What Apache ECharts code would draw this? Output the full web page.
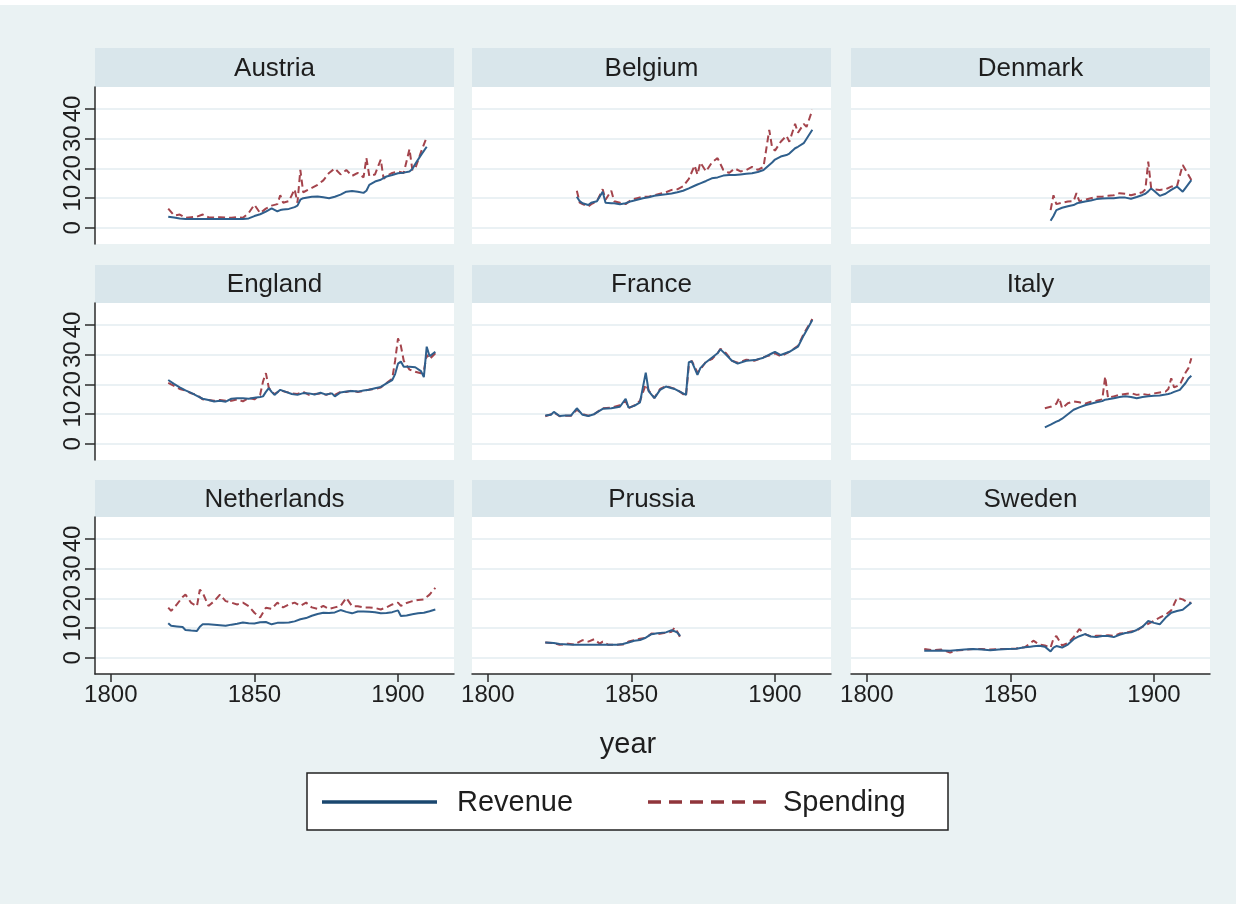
<!DOCTYPE html>
<html>
<head>
<meta charset="utf-8">
<script src="https://cdn.jsdelivr.net/npm/echarts@6/dist/echarts.min.js"></script>
<style>
  html, body { margin: 0; padding: 0; background: #eaf2f3; }
  #main { width: 1236px; height: 904px; }
</style>
</head>
<body>
<div id="main"></div>
<script>
// panel order, left to right, top to bottom
var countries = ['Austria', 'Belgium', 'Denmark', 'England', 'France', 'Italy', 'Netherlands', 'Prussia', 'Sweden'];

// ---- data (year, revenue, spending) ----
var austriaYears = [1820,1822,1824,1826,1828,1830,1832,1834,1836,1838,1840,1842,1844,1846,1848,1850,1852,1854,1856,1858,1859,1860,1862,1864,1865,1866,1867,1870,1872,1874,1876,1878,1880,1882,1884,1886,1888,1889,1890,1892,1894,1895,1896,1898,1900,1902,1904,1905,1906,1908,1910];
var austriaRev   = [3.8,3.5,3.2,3.0,3.0,3.0,3.0,3.0,3.0,3.0,3.0,3.0,3.0,3.0,3.2,4.0,4.6,5.5,6.6,5.6,6.0,6.2,6.4,7.0,7.5,9.5,10.0,10.5,10.6,10.3,10.0,10.5,11.2,12.2,12.4,12.2,11.8,12.5,14.5,15.6,16.2,16.8,17.3,17.8,18.4,18.6,19.0,19.8,21.5,24.5,27.3];
var austriaSpend = [6.5,4.2,4.5,3.4,3.6,3.8,4.5,3.6,3.5,3.6,3.5,3.4,3.6,3.4,5.0,7.8,5.0,6.5,7.5,8.0,11.0,8.5,9.0,13.0,8.5,19.5,12.0,13.5,14.5,16.0,18.5,20.0,18.0,19.5,17.5,18.5,17.0,23.5,17.5,18.0,23.0,16.5,17.5,18.5,19.0,18.5,26.5,19.5,20.0,25.5,30.5];

var belgiumYears = [1831,1832,1833,1835,1836,1838,1840,1841,1843,1844,1846,1848,1850,1852,1854,1856,1858,1860,1862,1864,1866,1868,1870,1872,1873,1874,1876,1878,1880,1882,1884,1886,1888,1890,1892,1894,1896,1898,1899,1900,1902,1904,1905,1907,1908,1910,1911,1913];
var belgiumRev   = [10.5,9.0,8.3,7.7,8.5,9.0,12.2,8.5,8.3,8.3,8.0,8.3,9.0,9.5,10.0,10.3,10.8,11.1,11.3,11.6,12.0,12.5,13.3,14.2,14.6,15.0,15.8,16.7,17.0,17.6,17.8,17.8,18.0,18.2,18.4,18.8,19.5,21.2,22.0,23.0,24.0,24.5,25.0,26.8,27.3,28.5,30.0,33.0];
var belgiumSpend = [12.5,8.5,8.0,7.2,8.0,9.0,13.0,9.5,12.5,9.0,8.5,8.0,9.5,10.0,10.5,10.5,11.0,11.5,12.0,12.8,13.0,14.0,16.5,21.0,18.0,22.0,19.0,22.0,23.5,19.5,18.5,20.0,19.0,19.5,20.5,19.5,20.5,33.0,27.0,26.0,29.0,31.0,29.0,35.0,32.0,35.0,34.0,39.7];

var denmarkYears = [1864,1865,1866,1868,1870,1872,1873,1874,1876,1878,1880,1882,1884,1886,1888,1890,1892,1894,1896,1897,1898,1899,1900,1902,1904,1906,1908,1910,1911,1913];
var denmarkRev   = [2.4,4.0,6.0,6.8,7.3,7.7,8.2,8.5,8.9,9.2,9.7,9.9,10.0,10.0,10.2,10.2,9.8,10.4,11.1,11.5,12.3,13.3,12.5,10.8,11.5,12.8,13.9,12.2,13.5,16.1];
var denmarkSpend = [6.0,11.0,8.0,8.5,8.9,9.0,11.7,9.0,9.5,10.0,10.5,10.5,10.8,11.0,11.7,11.5,11.0,11.5,12.0,13.0,22.3,13.5,13.0,12.8,13.0,13.9,14.0,21.2,19.5,16.1];

var englandYears = [1820,1822,1824,1826,1828,1830,1832,1834,1836,1838,1840,1842,1844,1846,1848,1850,1852,1853,1854,1855,1856,1857,1859,1861,1863,1865,1867,1869,1871,1873,1875,1877,1878,1880,1882,1884,1886,1888,1890,1892,1894,1896,1898,1899,1900,1901,1902,1904,1906,1908,1909,1910,1911,1913];
var englandRev   = [21.5,20.2,19.0,18.0,17.2,16.2,15.2,14.8,14.3,14.5,14.2,15.2,15.4,15.4,15.2,15.5,15.8,16.0,17.5,18.8,17.5,16.5,18.2,17.5,16.8,16.5,17.1,17.0,16.6,17.2,16.6,17.0,16.0,17.3,17.6,17.8,17.6,18.0,18.2,18.7,19.2,20.4,21.5,23.5,27.0,27.7,26.0,26.0,25.8,24.5,22.5,32.7,29.5,31.0];
var englandSpend = [20.5,19.5,18.5,18.0,17.0,16.5,15.0,14.8,14.5,14.8,14.5,14.5,15.0,14.3,15.5,15.0,16.5,21.0,23.8,19.0,17.5,16.8,18.0,17.5,17.0,16.8,17.5,16.5,16.8,17.0,16.5,17.2,16.5,17.5,17.5,18.0,17.5,17.8,18.3,18.5,19.0,20.5,22.0,28.0,35.5,33.0,28.0,25.0,24.3,23.8,24.5,30.0,28.5,30.5];

var franceYears = [1820,1822,1823,1825,1827,1829,1831,1833,1835,1837,1840,1843,1846,1848,1849,1851,1853,1855,1856,1858,1860,1862,1865,1867,1869,1870,1871,1873,1874,1876,1878,1880,1881,1883,1885,1887,1890,1893,1896,1899,1900,1902,1905,1908,1910,1913];
var franceRev    = [9.6,9.8,10.8,9.4,9.6,9.6,12.0,9.8,9.4,10.0,11.8,12.0,12.5,15.2,12.2,12.8,14.0,24.0,17.8,15.4,18.2,19.3,18.5,17.5,16.5,27.5,27.8,23.2,25.5,27.5,29.0,30.5,31.8,30.0,28.0,27.0,28.0,28.2,29.0,30.5,31.0,29.9,31.0,32.7,36.5,41.7];
var franceSpend  = [9.3,10.0,10.6,9.3,9.5,9.5,11.5,10.0,9.5,10.0,12.0,12.2,13.0,14.5,12.0,13.0,14.5,20.0,18.0,15.5,18.5,19.5,18.6,17.5,16.0,26.5,28.0,24.0,25.0,27.7,28.5,30.5,32.0,30.5,28.0,27.3,28.3,28.0,29.2,30.0,30.5,29.5,31.0,33.0,37.0,42.0];

var italyYears = [1862,1864,1866,1867,1868,1870,1872,1874,1876,1878,1880,1882,1883,1884,1886,1888,1890,1892,1894,1896,1898,1900,1902,1904,1905,1906,1907,1909,1911,1912,1913];
var italyRev   = [5.6,6.5,7.5,7.9,8.5,10.0,11.5,12.3,13.0,13.5,14.0,14.4,14.9,15.0,15.4,15.8,16.0,15.8,15.4,15.8,16.0,16.2,16.3,16.6,16.8,17.1,17.5,18.2,20.5,22.0,22.9];
var italySpend = [12.0,12.5,13.5,15.5,12.0,13.7,14.3,14.0,13.5,14.2,14.5,15.0,22.7,15.5,16.0,16.5,16.8,17.1,16.5,16.8,16.5,17.0,17.3,17.6,18.5,22.1,19.0,19.9,24.0,25.5,28.8];

var netherlandsYears = [1820,1821,1823,1825,1826,1828,1830,1831,1832,1834,1836,1838,1840,1842,1844,1846,1848,1850,1852,1854,1856,1858,1860,1862,1864,1866,1868,1870,1872,1874,1876,1878,1880,1882,1884,1886,1888,1890,1892,1894,1896,1898,1900,1901,1903,1905,1907,1909,1911,1913];
var netherlandsRev   = [11.7,10.8,10.6,10.4,9.4,9.2,9.1,10.5,11.3,11.3,11.2,11.0,10.8,11.2,11.5,11.9,11.7,11.6,12.0,12.1,11.3,11.8,11.8,11.9,12.3,13.0,13.4,14.2,14.8,15.2,15.1,15.3,16.1,15.5,15.0,15.6,15.6,15.5,15.4,15.0,15.1,15.4,16.0,14.1,14.3,14.7,15.0,15.2,15.7,16.3];
var netherlandsSpend = [16.9,15.8,18.0,20.5,21.3,18.5,17.4,23.0,21.9,17.5,19.1,21.3,19.1,18.6,18.0,18.6,17.4,15.2,13.6,16.9,16.5,18.6,17.0,18.0,18.6,17.5,18.6,17.0,16.5,17.5,16.5,17.0,17.5,20.2,17.4,17.4,17.0,17.0,16.8,16.3,17.0,18.0,18.6,17.5,18.5,19.1,19.5,19.7,21.3,23.6];

var prussiaYears = [1820,1823,1825,1828,1830,1833,1835,1837,1839,1840,1842,1845,1847,1849,1851,1853,1855,1857,1859,1862,1864,1865,1866,1867];
var prussiaRev   = [5.2,5.0,4.7,4.5,4.4,4.4,4.4,4.4,4.4,4.4,4.4,4.4,4.7,5.2,5.8,6.0,6.8,8.0,8.3,8.6,9.3,9.0,8.5,7.4];
var prussiaSpend = [5.2,5.0,4.4,4.8,4.5,6.0,5.5,6.3,4.8,5.5,4.4,4.4,4.5,5.5,6.0,6.5,6.8,8.2,8.0,8.5,8.8,10.2,8.8,6.9];

var swedenYears = [1820,1823,1826,1829,1831,1834,1837,1840,1843,1846,1849,1852,1855,1857,1858,1860,1862,1864,1865,1866,1868,1870,1872,1874,1876,1878,1880,1882,1884,1886,1888,1890,1892,1894,1896,1898,1900,1902,1904,1906,1908,1910,1912,1913];
var swedenRev   = [2.4,2.4,2.5,2.4,2.6,2.8,3.0,2.8,2.6,2.8,3.0,3.1,3.6,3.8,3.9,4.1,3.8,2.2,3.5,4.0,3.5,4.5,6.3,7.3,8.0,7.2,7.0,7.4,7.4,7.0,7.8,8.4,8.6,9.4,10.5,12.4,11.8,11.3,13.5,15.2,15.8,16.2,17.8,18.6];
var swedenSpend = [3.0,2.6,2.8,1.8,2.5,2.7,3.0,3.0,2.8,3.0,3.0,3.2,3.6,5.0,5.8,4.5,4.2,3.5,6.5,7.4,4.2,5.0,7.0,9.7,8.0,7.2,7.5,7.5,7.6,7.4,8.2,8.4,8.9,9.2,10.5,11.5,12.5,13.6,14.5,16.0,20.2,19.7,18.5,18.6];

var yearLists  = [austriaYears, belgiumYears, denmarkYears, englandYears, franceYears, italyYears, netherlandsYears, prussiaYears, swedenYears];
var revLists   = [austriaRev, belgiumRev, denmarkRev, englandRev, franceRev, italyRev, netherlandsRev, prussiaRev, swedenRev];
var spendLists = [austriaSpend, belgiumSpend, denmarkSpend, englandSpend, franceSpend, italySpend, netherlandsSpend, prussiaSpend, swedenSpend];

var yTicks = [0, 10, 20, 30, 40];
var xTicks = [1800, 1850, 1900];
var legendNames = ['Revenue', 'Spending'];

// ---- layout ----
var colLeft = [95, 472, 851];
var rowTop = [87, 303, 517];
var stripTop = [48, 265, 480];
var plotW = 359, plotH = 157;

var revColor = '#1a476f';
var spendColor = '#90353b';
var revLine = '#2f5f8c';    // thin panel lines read a bit lighter
var spendLine = '#a4444c';
var axisColor = '#2b2b2b';
var gridColor = '#e3ecf0';
var font = "'Liberation Sans', Arial, sans-serif";

var grids = [], xAxes = [], yAxes = [], series = [], graphics = [];

graphics.push({ type: 'rect', shape: { x: 0, y: 0, width: 1236, height: 5 }, style: { fill: '#ffffff' }, silent: true });

for (var i = 0; i < countries.length; i++) {
    var r = Math.floor(i / 3), c = i % 3;
    var plotLeft = colLeft[c], plotTop = rowTop[r];
    grids.push({ left: plotLeft, top: plotTop, width: plotW, height: plotH, show: true,
        backgroundColor: '#ffffff', borderWidth: 0, outerBoundsMode: 'none' });

    var bottomRow = (r === 2), leftCol = (c === 0);
    xAxes.push({
        type: 'value', gridIndex: i, min: 1794.5, max: 1919.5,
        axisLine: { show: bottomRow, onZero: false, lineStyle: { color: axisColor, width: 1.5 } },
        axisTick: { show: bottomRow, length: 8, customValues: xTicks, lineStyle: { color: axisColor, width: 1.5 } },
        axisLabel: { show: bottomRow, customValues: xTicks, margin: 9, fontSize: 24, fontFamily: font, color: '#1e1e1e',
            formatter: function (v) { return String(v); } },
        splitLine: { show: false }
    });
    yAxes.push({
        type: 'value', gridIndex: i, min: -5.4, max: 47.4,
        axisLine: { show: leftCol, onZero: false, lineStyle: { color: axisColor, width: 1.5 } },
        axisTick: { show: leftCol, length: 10, customValues: yTicks, lineStyle: { color: axisColor, width: 1.5 } },
        axisLabel: { show: leftCol, customValues: yTicks, rotate: 90, margin: 10, fontSize: 24, fontFamily: font, color: '#1e1e1e' },
        splitLine: { show: true, lineStyle: { color: gridColor, width: 1.5 } }
    });

    var yrs = yearLists[i], rev = revLists[i], sp = spendLists[i];
    var revData = [], spData = [];
    for (var k = 0; k < yrs.length; k++) {
        revData.push([yrs[k], rev[k]]);
        spData.push([yrs[k], sp[k]]);
    }
    series.push({
        name: legendNames[0], type: 'line', xAxisIndex: i, yAxisIndex: i,
        symbol: 'none', z: 3,
        lineStyle: { color: revLine, width: 2 },
        itemStyle: { color: revLine },
        data: revData
    });
    series.push({
        name: legendNames[1], type: 'line', xAxisIndex: i, yAxisIndex: i,
        symbol: 'none', z: 2,
        lineStyle: { color: spendLine, width: 2, type: [7, 4] },
        itemStyle: { color: spendLine },
        data: spData
    });

    // facet strip with the country name
    var sh = plotTop - stripTop[r];
    graphics.push({ type: 'rect', shape: { x: plotLeft, y: stripTop[r], width: plotW, height: sh }, style: { fill: '#d9e6eb' }, silent: true });
    graphics.push({ type: 'text', x: plotLeft + plotW / 2, y: stripTop[r] + sh / 2 + 1, silent: true,
        style: { text: countries[i], fontSize: 26, fontFamily: font, fill: '#1e1e1e', align: 'center', verticalAlign: 'middle' } });
}

// x axis title
graphics.push({ type: 'text', x: 628, y: 745, silent: true,
    style: { text: 'year', fontSize: 29, fontFamily: font, fill: '#1e1e1e', align: 'center', verticalAlign: 'middle' } });

// key box below the panels
graphics.push({ type: 'rect', shape: { x: 307, y: 773, width: 641, height: 57 }, silent: true,
    style: { fill: '#ffffff', stroke: '#222222', lineWidth: 1.5 } });
graphics.push({ type: 'line', shape: { x1: 322, y1: 802, x2: 437, y2: 802 }, silent: true,
    style: { stroke: revColor, lineWidth: 3.5 } });
graphics.push({ type: 'text', x: 457, y: 803, silent: true,
    style: { text: legendNames[0], fontSize: 29, fontFamily: font, fill: '#1e1e1e', align: 'left', verticalAlign: 'middle' } });
graphics.push({ type: 'line', shape: { x1: 648, y1: 802, x2: 768, y2: 802 }, silent: true,
    style: { stroke: spendColor, lineWidth: 3.5, lineDash: [13, 8] } });
graphics.push({ type: 'text', x: 783, y: 803, silent: true,
    style: { text: legendNames[1], fontSize: 29, fontFamily: font, fill: '#1e1e1e', align: 'left', verticalAlign: 'middle' } });

var myChart = echarts.init(document.getElementById('main'));
var option = {
    backgroundColor: '#eaf2f3',
    animation: false,
    grid: grids,
    xAxis: xAxes,
    yAxis: yAxes,
    graphic: graphics,
    series: series
};
myChart.setOption(option);
</script>
</body>
</html>
